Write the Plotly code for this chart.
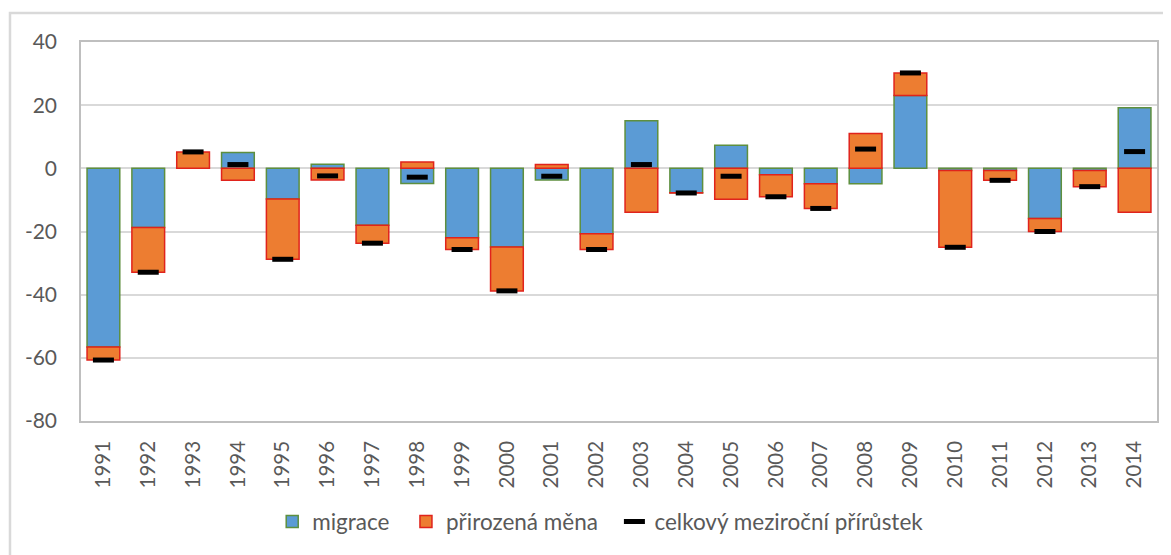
import plotly.graph_objects as go

years = [str(y) for y in range(1991, 2015)]
migrace = [-56.6, -18.7, 0.0, 5.0, -9.7, 1.3, -18.0, -4.8, -22.0, -24.9, -3.7, -20.7,
           15.1, -7.7, 7.3, -2.0, -4.9, -4.9, 23.1, -0.7, -0.7, -15.9, -0.7, 19.2]
prirozena = [-4.1, -14.2, 5.2, -3.8, -19.1, -3.7, -5.7, 2.0, -3.7, -13.9, 1.2, -5.0,
             -13.9, -0.1, -9.8, -7.0, -7.8, 11.0, 7.1, -24.3, -3.1, -4.1, -5.1, -13.9]
celkem = [round(m + p, 1) for m, p in zip(migrace, prirozena)]
y_ticks = [-80, -60, -40, -20, 0, 20, 40]
y_tick_labels = ["-80", "-60", "-40", "-20", "0", "20", "40"]

font_family = "Lato, 'Open Sans', sans-serif"
text_color = "#595959"
gap = "\u00a0\u00a0"

fig = go.Figure()
fig.add_trace(go.Bar(
    x=years, y=migrace, name="migrace" + gap,
    marker=dict(color="#5B9BD5", line=dict(color="#5E8F3E", width=1.5)),
))
fig.add_trace(go.Bar(
    x=years, y=prirozena, name="přirozená měna" + gap,
    marker=dict(color="#ED7D31", line=dict(color="#E0231C", width=1.5)),
))
fig.add_trace(go.Scatter(
    x=years, y=celkem, name="celkový meziroční přírůstek", mode="markers",
    marker=dict(symbol="line-ew", size=15, color="black",
                line=dict(color="black", width=5)),
))

fig.update_layout(
    width=1163, height=547,
    barmode="relative", bargap=0.27,
    paper_bgcolor="white", plot_bgcolor="white",
    margin=dict(l=73, r=14, t=34, b=134, autoexpand=False),
    font=dict(family=font_family, size=20, color=text_color),
    showlegend=True,
    legend=dict(orientation="h", x=0.483, xanchor="center", y=-0.266, yanchor="middle",
                font=dict(size=22.5, color=text_color), itemwidth=30,
                traceorder="normal", tracegroupgap=0),
    shapes=[dict(type="rect", xref="paper", yref="paper",
                 x0=-0.066, x1=1.03, y0=-0.40, y1=1.0765,
                 line=dict(color="#D9D9D9", width=2.5), layer="below")],
)
fig.update_xaxes(
    type="category", range=[-0.5, len(years) - 0.5], autorange=False,
    tickangle=-90, showgrid=False, automargin=False,
    showline=True, linecolor="#BFBFBF", linewidth=1.5, mirror=True,
    ticks="", ticklabelstandoff=10,
    tickfont=dict(size=20.5, color=text_color),
)
fig.update_yaxes(
    range=[-80, 40], autorange=False, tickvals=y_ticks, ticktext=y_tick_labels,
    showgrid=True, gridcolor="#D9D9D9", gridwidth=1.5, automargin=False,
    zeroline=False,
    showline=True, linecolor="#BFBFBF", linewidth=1.5, mirror=True,
    ticks="", ticklabelstandoff=18,
    tickfont=dict(size=21, color=text_color),
)

fig.write_html("out.html")
